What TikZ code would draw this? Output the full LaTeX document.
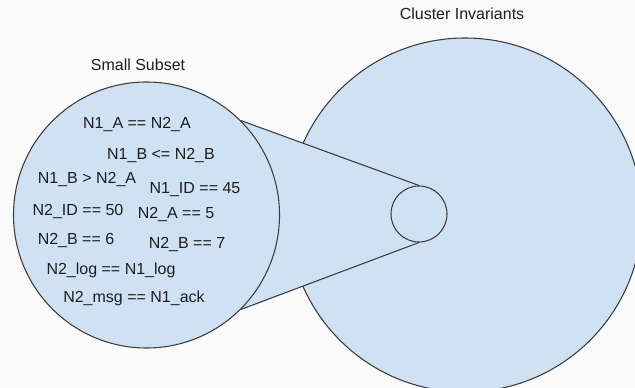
\documentclass[tikz,border=0pt]{standalone}
\usepackage{fontspec}
\setmainfont{Liberation Sans}
\pgfdeclarelayer{back}
\pgfdeclarelayer{mid}
\pgfsetlayers{back,mid,main}
\definecolor{bgc}{RGB}{250,250,250}
\definecolor{blob}{RGB}{207,226,243}
\definecolor{edge}{RGB}{60,60,60}
\definecolor{txt}{RGB}{30,30,30}
\begin{document}
\begin{tikzpicture}[x=0.75pt,y=-0.75pt,
  disc/.style={circle, draw=edge, fill=blob, line width=0.8pt, inner sep=0pt},
  lbl/.style={anchor=base, text=txt, font=\fontsize{12}{14}\selectfont, inner sep=0pt},
  edgeline/.style={draw=edge, line width=0.8pt}]
\useasboundingbox (0,0) rectangle (635,388);
\begin{pgfonlayer}{back}
\path[fill=bgc] (0,0) rectangle (635,388);
\node[disc, minimum size=265.5pt] (big) at (465,215) {};
\end{pgfonlayer}
\node[disc, minimum size=199.5pt] (subset) at (146.5,215) {};
\node[disc, minimum size=42pt] (zoom) at (419,214) {};
\begin{pgfonlayer}{mid}
\fill[blob] (subset.45) -- (zoom.north) -- (zoom.south) -- (subset.-45) -- cycle;
\draw[edgeline] (subset.45) -- (zoom.north);
\draw[edgeline] (subset.-45) -- (zoom.south);
\end{pgfonlayer}
\node[lbl] (t0) at (462,20) {Cluster Invariants};
\node[lbl] (t1) at (138,71) {Small Subset};
\node[lbl] (c1) at (137,129) {N1\_A == N2\_A};
\node[lbl] (c2) at (161,160) {N1\_B <= N2\_B};
\node[lbl] (c3) at (87,184) {N1\_B > N2\_A};
\node[lbl] (c4) at (195,194) {N1\_ID == 45};
\node[lbl] (c5) at (78,216) {N2\_ID == 50};
\node[lbl] (c6) at (176,219) {N2\_A == 5};
\node[lbl] (c7) at (76,245) {N2\_B == 6};
\node[lbl] (c8) at (187,249) {N2\_B == 7};
\node[lbl] (c9) at (111,274) {N2\_log == N1\_log};
\node[lbl] (c10) at (134,302) {N2\_msg == N1\_ack};
\end{tikzpicture}
\end{document}
